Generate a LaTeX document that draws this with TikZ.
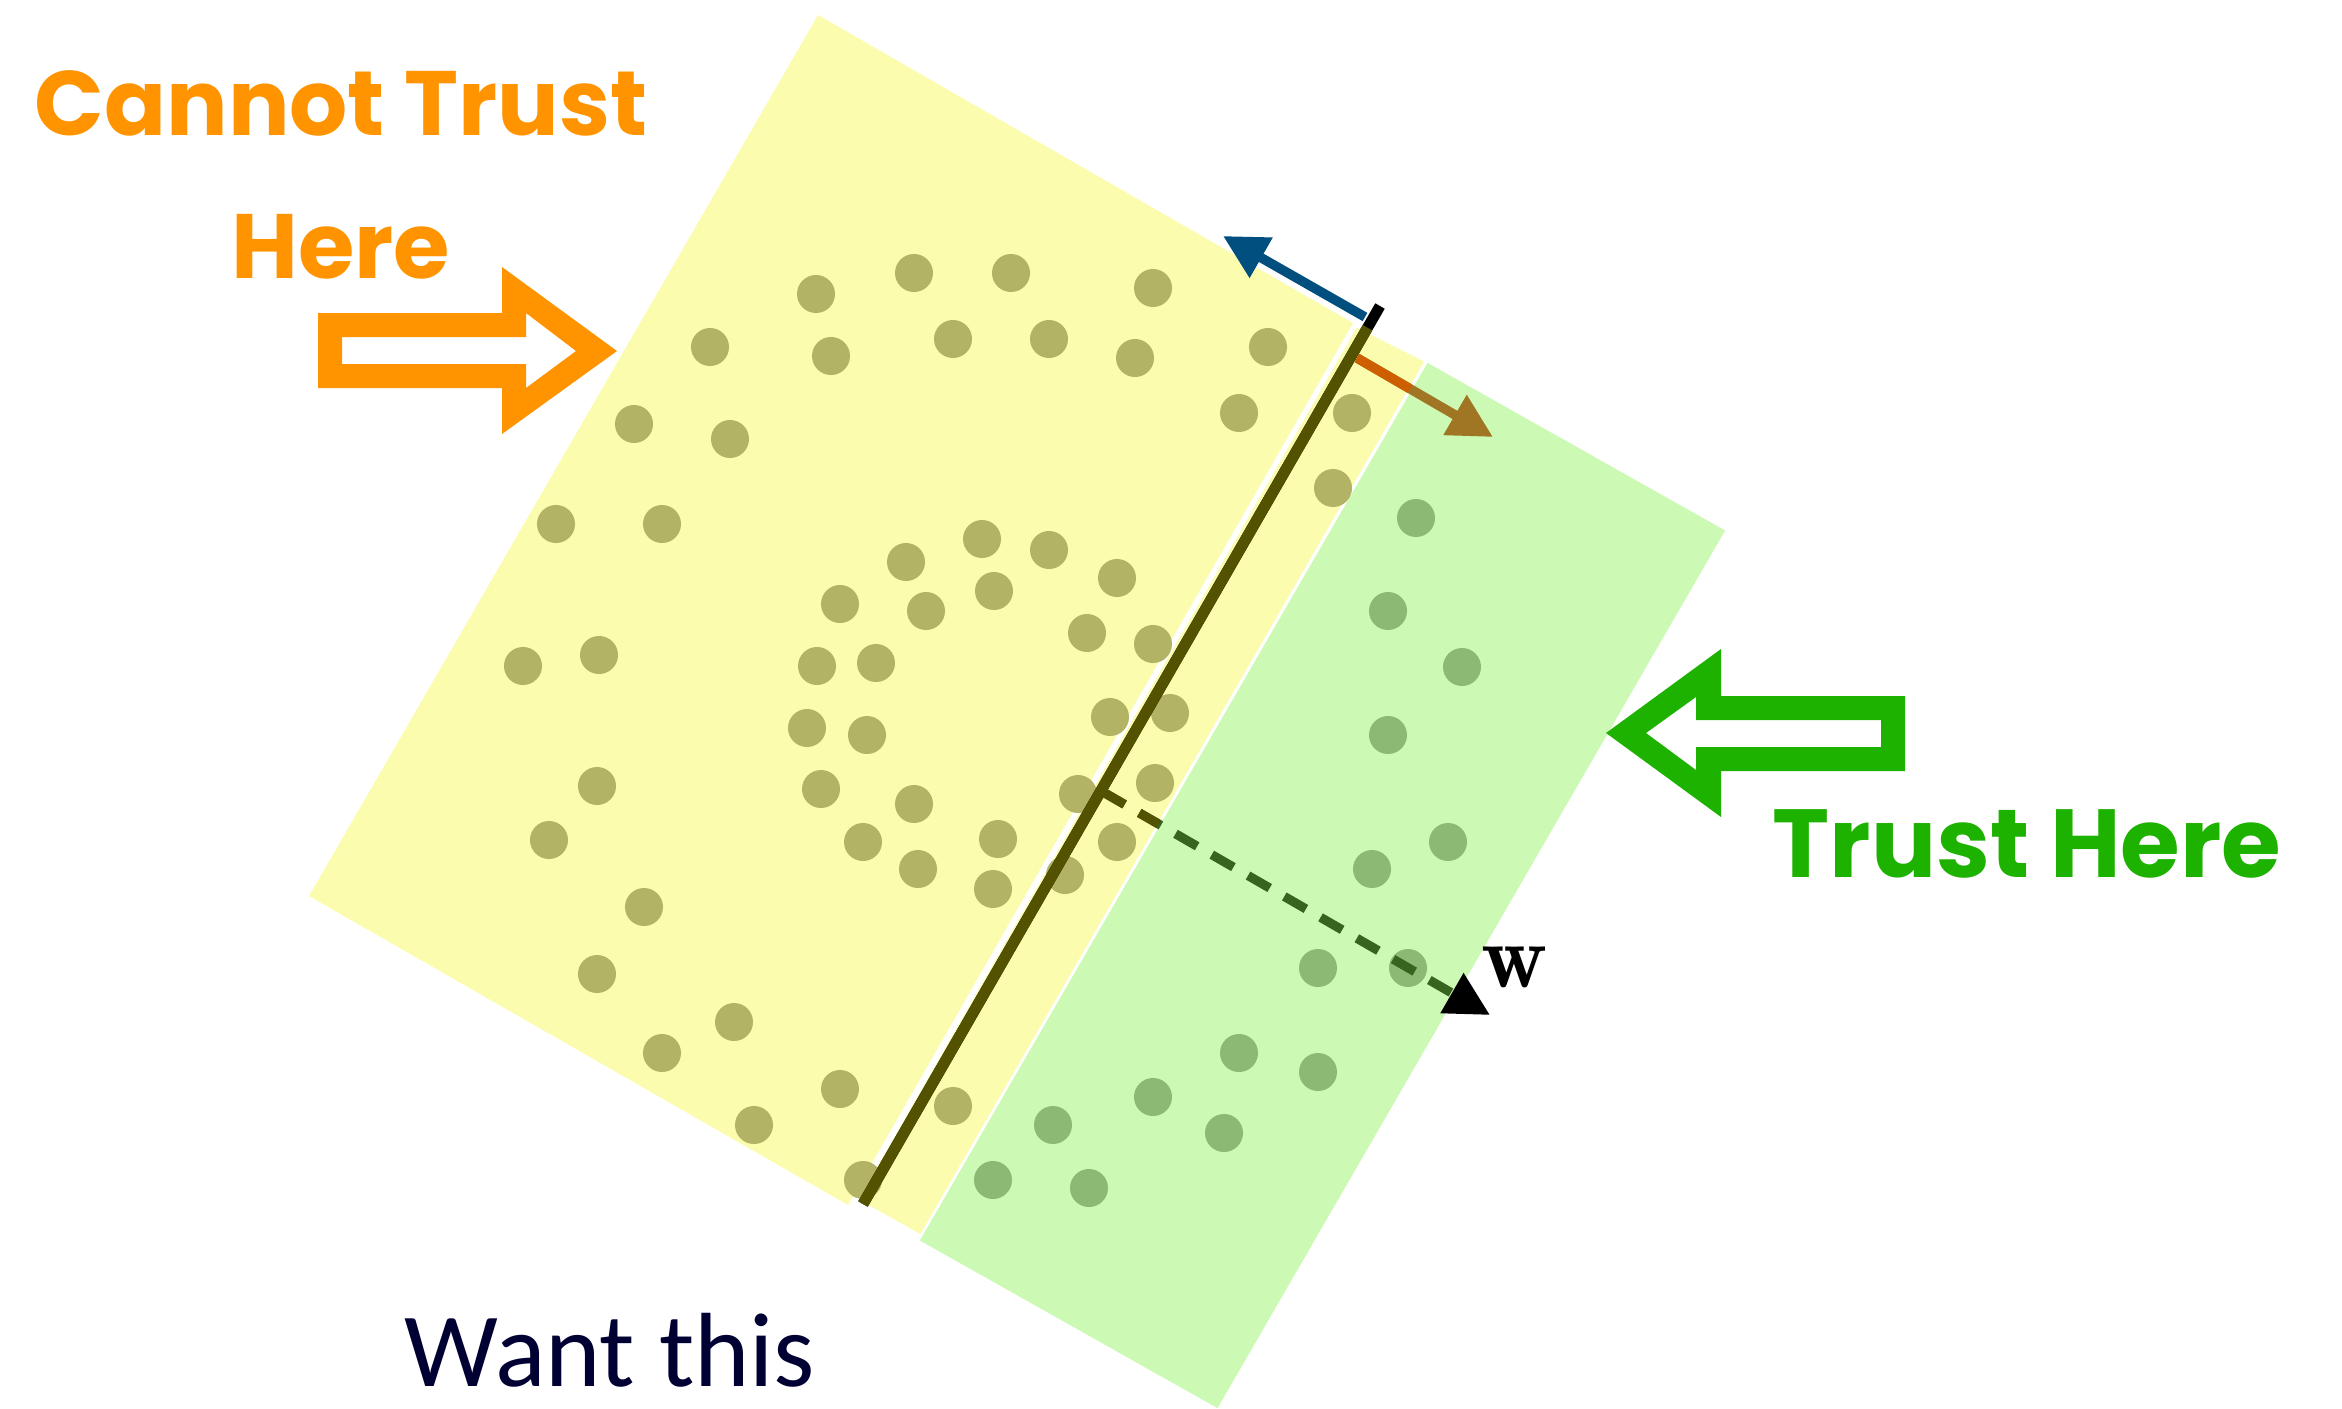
\documentclass[tikz,border=0pt]{standalone}
\usepackage{fontspec}
\usetikzlibrary{arrows.meta}
\newfontfamily\comicfont{Poppins}
\newfontfamily\calfont{Carlito}

\definecolor{fillyellow}{RGB}{252,252,174}
\definecolor{fillgreen}{RGB}{204,250,180}
\definecolor{dotyellow}{RGB}{179,179,102}
\definecolor{dotgreen}{RGB}{140,186,116}
\definecolor{trustorange}{RGB}{255,148,0}
\definecolor{trustgreen}{RGB}{30,178,0}
\definecolor{normblue}{RGB}{0,79,127}
\definecolor{normorange}{RGB}{205,95,0}
\definecolor{normbrown}{RGB}{160,117,35}
\definecolor{lineolive}{RGB}{82,82,0}
\definecolor{wgreen}{RGB}{55,100,30}
\definecolor{textnavy}{RGB}{0,0,51}

\begin{document}
\begin{tikzpicture}[x=0.01cm, y=-0.01cm,
    vecline/.style={line width=2.7pt},
    vechead/.style={-{Triangle[length=12.5pt,width=12.5pt]}},
    wdash/.style={line width=2.6pt, dash pattern=on 7.1pt off 4.8pt},
    comictext/.style={anchor=base, font=\comicfont\bfseries\fontsize{26}{30}\selectfont}]
    \useasboundingbox (0,0) rectangle (2342,1409);

    % Region corners
    \coordinate (yT) at (818,15);
    \coordinate (yA) at (1353,323);
    \coordinate (yB) at (848,1205);
    \coordinate (yL) at (309,896);
    \coordinate (s1) at (1356,326);
    \coordinate (s2) at (1426,361);
    \coordinate (s3) at (921,1236);
    \coordinate (s4) at (857,1200);
    \coordinate (g1) at (1427,361);
    \coordinate (g2) at (1727,530);
    \coordinate (g3) at (1218,1410);
    \coordinate (g4) at (918,1241);

    % Draw regions
    \fill[fillyellow] (yT) -- (yA) -- (yB) -- (yL) -- cycle;
    \filldraw[fill=fillyellow, draw=white, line width=0.7pt] (s1) -- (s2) -- (s3) -- (s4) -- cycle;
    \filldraw[fill=fillgreen, draw=white, line width=0.7pt] (g1) -- (g2) -- (g3) -- (g4) -- cycle;

    % Draw data points
    \foreach \px/\py in {816/294, 914/273, 1011/273, 1153/288, 710/347, 831/356,
        953/339, 1049/339, 1135/358, 1268/347, 634/424, 730/439, 1239/413,
        1352/413, 556/524, 662/524, 1333/488, 982/539, 1049/550, 906/562,
        1117/578, 994/591, 840/604, 926/611, 1087/633, 1153/644, 523/666,
        599/655, 817/666, 876/663, 807/728, 867/735, 1110/717, 1170/713,
        597/786, 821/789, 914/804, 1078/794, 1155/783, 549/840, 863/842,
        998/839, 1117/842, 918/869, 993/889, 1065/875, 644/907, 597/974,
        734/1022, 662/1053, 840/1089, 754/1125, 953/1106, 863/1180}
        \fill[dotyellow] (\px,\py) circle[radius=0.19cm];
    \foreach \px/\py in {1416/518, 1388/611, 1462/667, 1388/735, 1448/842,
        1372/869, 1318/968, 1408/968, 1239/1053, 1318/1072, 1053/1125,
        1153/1097, 1224/1133, 993/1180, 1089/1188}
        \fill[dotgreen] (\px,\py) circle[radius=0.19cm];

    % Separating line
    \coordinate (sepTop) at (1380,306);
    \coordinate (sepBot) at (863,1204);
    \draw[line width=3.1pt, black] (sepTop) -- (sepBot);
    \begin{scope}
        \clip (yT) -- (s2) -- (s3) -- (860,1240) -- (yL) -- cycle;
        \draw[line width=3.1pt, lineolive] (sepTop) -- (sepBot);
    \end{scope}

    % Draw vectors
    \coordinate (blueStart) at (1365,317);
    \coordinate (blueTip) at (1223,236);
    \draw[vecline, vechead, normblue] (blueStart) -- (blueTip);

    \coordinate (orStart) at (1357,358);
    \coordinate (orTip) at (1493,437);
    \draw[vecline, vechead, normbrown] (orStart) -- (orTip);
    \begin{scope}
        \clip (s1) -- (s2) -- (s3) -- (s4) -- cycle;
        \draw[vecline, normorange] (orStart) -- (orTip);
    \end{scope}

    \coordinate (wStart) at (1103,792);
    \coordinate (wTip) at (1490,1015);
    \draw[wdash, wgreen, -{Triangle[length=12.5pt,width=12.5pt,color=black]}] (wStart) -- (wTip);
    \begin{scope}
        \clip (s1) -- (s2) -- (s3) -- (s4) -- cycle;
        \draw[wdash, lineolive] (wStart) -- (wTip);
    \end{scope}
    \node[anchor=base, font=\fontsize{26}{30}\selectfont] (wlabel) at (1514,987) {$\mathbf{w}$};

    % Block arrows
    \fill[trustorange, even odd rule] (318,313) -- (502,313) -- (502,267) -- (617,351)
        -- (502,434) -- (502,388) -- (318,388) -- cycle
        (342,337) -- (526,337) -- (526,313) -- (576,351) -- (526,388) -- (526,364) -- (342,364) -- cycle;
    \fill[trustgreen, even odd rule] (1606,733) -- (1721,649) -- (1721,696) -- (1905,696)
        -- (1905,771) -- (1721,771) -- (1721,817) -- cycle
        (1646,733) -- (1696,697) -- (1696,720) -- (1881,720) -- (1881,747) -- (1696,747) -- (1696,770) -- cycle;

    % Labels
    \node[comictext, text=trustorange] (cannot) at (341,135) {Cannot Trust};
    \node[comictext, text=trustorange] (here) at (341,278) {Here};
    \node[comictext, text=trustgreen, font=\comicfont\bfseries\fontsize{27.5}{30}\selectfont] (trust) at (2027,877) {Trust Here};
    \node[anchor=base west, inner sep=0pt, text=textnavy, font=\calfont\fontsize{30}{36}\selectfont] (want) at (404,1386) {Want this};
\end{tikzpicture}
\end{document}
